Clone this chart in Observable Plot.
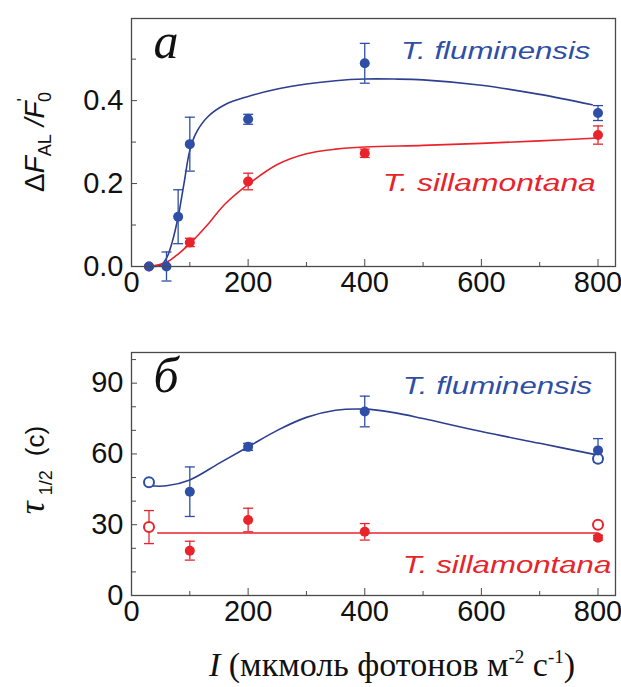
<!DOCTYPE html>
<html><head><meta charset="utf-8">
<script src="https://cdn.jsdelivr.net/npm/d3@7"></script>
<script src="https://cdn.jsdelivr.net/npm/@observablehq/plot@0.6"></script>
<style>
body{margin:0;background:#fff;}
#chart{position:relative;width:621px;height:687px;overflow:hidden;}
#chart svg{position:absolute;left:0;}
#border{position:absolute;left:8px;top:12px;width:640px;height:700px;border-left:1px solid #dcdcdc;border-top:1px solid #dcdcdc;}
</style></head><body><div id="chart"><div id="border"></div></div>
<script>
// ---------- data: panel a (ΔF_AL/F'0) ----------
const aBlueX   = [30, 60, 80, 100, 200, 400, 800];
const aBlueY   = [0.0, 0.0, 0.12, 0.295, 0.355, 0.49, 0.37];
const aBlueErr = [0.0, 0.035, 0.065, 0.065, 0.012, 0.048, 0.018];
const aRedX    = [30, 100, 200, 400, 800];
const aRedY    = [0.0, 0.058, 0.205, 0.273, 0.317];
const aRedErr  = [0.0, 0.01, 0.02, 0.01, 0.022];
const aBlueCurveX = [30, 50, 60, 70, 80, 90, 100, 110, 130, 160, 200, 250, 300, 350, 400, 450, 500, 600, 700, 790];
const aBlueCurveY = [0.0, 0.003, 0.02, 0.06, 0.12, 0.2, 0.28, 0.32, 0.36, 0.39, 0.41, 0.428, 0.44, 0.448, 0.452, 0.452, 0.45, 0.437, 0.415, 0.39];
const aRedCurveX = [30, 60, 80, 100, 130, 160, 200, 250, 300, 350, 400, 500, 600, 700, 800];
const aRedCurveY = [0.0, 0.01, 0.03, 0.055, 0.1, 0.15, 0.198, 0.246, 0.272, 0.283, 0.288, 0.292, 0.297, 0.303, 0.31];

// ---------- data: panel б (τ1/2, c) ----------
const bBlueX   = [100, 200, 400, 800];
const bBlueY   = [44, 63, 78, 61.5];
const bBlueErr = [10.5, 1.5, 6.5, 5];
const bBlueOpenX = [30, 800];
const bBlueOpenY = [48, 58];
const bRedX    = [100, 200, 400, 800];
const bRedY    = [19, 32, 27, 24.5];
const bRedErr  = [4, 5, 3.5, 1];
const bRedOpenX = [30, 800];
const bRedOpenY = [29, 30];
const bRedOpenErr = [7, 0];
const bBlueCurveX = [30, 60, 100, 150, 200, 250, 300, 350, 400, 450, 500, 600, 700, 800];
const bBlueCurveY = [46.5, 46.5, 49, 56, 63, 70, 75.5, 78.5, 79, 77.5, 75, 69.5, 64.5, 59.5];
const bRedLineX = [45, 800];
const bRedLineY = [26.5, 26.5];

// ---------- ticks / labels ----------
const xMajor = [0, 200, 400, 600, 800];
const xMinor = [100, 300, 500, 700];
const aYMajor = [0, 0.2, 0.4];
const aYMinor = [0.1, 0.3, 0.5];
const bYMajor = [0, 30, 60, 90];
const bYMinor = [10, 20, 40, 50, 70, 80, 100];
const species = ["T. fluminensis", "T. sillamontana"];
const panelLetters = ["a", "б"];

const BLUE = "#2f4ea6", BLUE_LINE = "#2d3f8e", RED = "#e8232b", AXIS = "#4a4a4a";
const W = 621, ML = 131, MR = 6;
const innerW = W - ML - MR;

const zipPts = (xs, ys, es) => xs.map((x, i) => ({x, y: ys[i], lo: ys[i] - (es ? es[i] : 0), hi: ys[i] + (es ? es[i] : 0)}));
const capSym = {draw(ctx) { ctx.moveTo(-5, 0); ctx.lineTo(5, 0); }};

function errMarks(pts, color) {
  const e = pts.filter(d => d.hi > d.lo);
  return [
    Plot.ruleX(e, {x: "x", y1: "lo", y2: "hi", stroke: color, strokeWidth: 1.3}),
    Plot.dot(e, {x: "x", y: "lo", symbol: capSym, stroke: color, strokeWidth: 1.3}),
    Plot.dot(e, {x: "x", y: "hi", symbol: capSym, stroke: color, strokeWidth: 1.3})
  ];
}

function frameMarks(innerH, yMajor, yMinor, fmt) {
  return [
    Plot.tickX(xMajor, {x: d => d, insetTop: innerH - 7, stroke: AXIS}),
    Plot.tickX(xMinor, {x: d => d, insetTop: innerH - 4, stroke: AXIS}),
    Plot.tickY(yMajor, {y: d => d, insetRight: innerW - 6, stroke: AXIS}),
    Plot.tickY(yMinor, {y: d => d, insetRight: innerW - 5, stroke: AXIS}),
    Plot.axisX({ticks: xMajor, tickSize: 0, tickPadding: 5, tickFormat: d => String(d), fill: "#111"}),
    Plot.axisY({ticks: yMajor, tickSize: 0, tickPadding: 8, tickFormat: fmt, fill: "#111"}),
    Plot.frame({stroke: AXIS, strokeWidth: 1.3})
  ];
}

const style = {fontSize: "29px", fontFamily: "'Liberation Sans', Arial, sans-serif", background: "white", overflow: "visible"};
const chart = document.getElementById("chart");

// ---------- panel a ----------
const aH = 300, aMT = 18, aMB = 34;
const aBlue = zipPts(aBlueX, aBlueY, aBlueErr);
const aRed = zipPts(aRedX, aRedY, aRedErr);
const plotA = Plot.plot({
  width: W, height: aH, marginLeft: ML, marginRight: MR, marginTop: aMT, marginBottom: aMB,
  style,
  x: {domain: [0, 830], label: null},
  y: {domain: [0, 0.598], label: null},
  marks: [
    Plot.line(aBlueCurveX.map((x, i) => ({x, y: aBlueCurveY[i]})), {x: "x", y: "y", stroke: BLUE_LINE, strokeWidth: 1.6, curve: "catmull-rom"}),
    Plot.line(aRedCurveX.map((x, i) => ({x, y: aRedCurveY[i]})), {x: "x", y: "y", stroke: RED, strokeWidth: 1.6, curve: "catmull-rom"}),
    ...errMarks(aBlue, BLUE),
    ...errMarks(aRed, RED),
    Plot.dot(aRed, {x: "x", y: "y", r: 5, fill: RED}),
    Plot.dot(aBlue, {x: "x", y: "y", r: 5, fill: BLUE}),
    Plot.text([species[0]], {x: 462, y: 0.52, text: d => d, textAnchor: "start", fill: BLUE, fontStyle: "italic", fontSize: 24}),
    Plot.text([species[1]], {x: 431, y: 0.2, text: d => d, textAnchor: "start", fill: RED, fontStyle: "italic", fontSize: 24.5}),
    Plot.text([panelLetters[0]], {frameAnchor: "top-left", dx: 22, dy: 4, text: d => d, fill: "#111", fontStyle: "italic", fontFamily: "'Liberation Serif', 'Times New Roman', serif", fontSize: 50, lineAnchor: "top"}),
    ...frameMarks(aH - aMT - aMB, aYMajor, aYMinor, d3.format(".1f"))
  ]
});
plotA.style.top = "0px";
chart.appendChild(plotA);

// ---------- panel б ----------
const bTop = 300, bH = 387, bMT = 52, bMB = 92;
const bBlue = zipPts(bBlueX, bBlueY, bBlueErr);
const bBlueOpen = zipPts(bBlueOpenX, bBlueOpenY, null);
const bRed = zipPts(bRedX, bRedY, bRedErr);
const bRedOpen = zipPts(bRedOpenX, bRedOpenY, bRedOpenErr);
const plotB = Plot.plot({
  width: W, height: bH, marginLeft: ML, marginRight: MR, marginTop: bMT, marginBottom: bMB,
  style,
  x: {domain: [0, 830], label: null},
  y: {domain: [0, 103], label: null},
  marks: [
    Plot.line(bBlueCurveX.map((x, i) => ({x, y: bBlueCurveY[i]})), {x: "x", y: "y", stroke: BLUE_LINE, strokeWidth: 1.6, curve: "catmull-rom"}),
    Plot.line(bRedLineX.map((x, i) => ({x, y: bRedLineY[i]})), {x: "x", y: "y", stroke: RED, strokeWidth: 1.6}),
    ...errMarks(bBlue, BLUE),
    ...errMarks(bRed, RED),
    ...errMarks(bRedOpen, RED),
    Plot.dot(bBlueOpen, {x: "x", y: "y", r: 5, fill: "white", stroke: BLUE, strokeWidth: 2}),
    Plot.dot(bRedOpen, {x: "x", y: "y", r: 5, fill: "white", stroke: RED, strokeWidth: 2}),
    Plot.dot(bBlue, {x: "x", y: "y", r: 5, fill: BLUE}),
    Plot.dot(bRed, {x: "x", y: "y", r: 5, fill: RED}),
    Plot.text([species[0]], {x: 465, y: 88.7, text: d => d, textAnchor: "start", fill: BLUE, fontStyle: "italic", fontSize: 24}),
    Plot.text([species[1]], {x: 465, y: 12.7, text: d => d, textAnchor: "start", fill: RED, fontStyle: "italic", fontSize: 24}),
    Plot.text([panelLetters[1]], {frameAnchor: "top-left", dx: 22, dy: 4, text: d => d, fill: "#111", fontStyle: "italic", fontFamily: "'Liberation Serif', 'Times New Roman', serif", fontSize: 50, lineAnchor: "top"}),
    ...frameMarks(bH - bMT - bMB, bYMajor, bYMinor, d => String(d))
  ]
});
plotB.style.top = bTop + "px";
chart.appendChild(plotB);

// stretch species labels horizontally like the reference
for (const svg of [plotA, plotB]) {
  d3.select(svg).selectAll("g[aria-label='text'] text").each(function() {
    const t = this.textContent;
    if (t.startsWith("T.")) {
      const tr = this.getAttribute("transform") || "";
      this.setAttribute("transform", tr + " scale(1.3,1)");
    }
  });
}

// y-axis title, panel a
const ta = d3.select(plotA).append("text")
  .attr("transform", "translate(44,142) rotate(-90)")
  .attr("text-anchor", "middle").attr("fill", "#111")
  .attr("font-family", "'Liberation Sans', Arial, sans-serif").attr("font-size", 28);
ta.append("tspan").text("Δ");
ta.append("tspan").attr("font-style", "italic").text("F");
ta.append("tspan").attr("font-size", 18).attr("dy", 7).text("AL");
ta.append("tspan").attr("dy", -7).attr("font-style", "italic").text(" /F");
ta.append("tspan").attr("font-size", 18).attr("dy", -14).text("'");
ta.append("tspan").attr("font-size", 18).attr("dx", -4).attr("dy", 21).text("0");

// y-axis title, panel б
const tb = d3.select(plotB).append("text")
  .attr("transform", "translate(44,170) rotate(-90)")
  .attr("text-anchor", "middle").attr("fill", "#111")
  .attr("font-family", "'Liberation Sans', Arial, sans-serif").attr("font-size", 26);
tb.append("tspan").attr("font-family", "'Liberation Serif', serif").attr("font-style", "italic").attr("font-size", 36).text("τ");
tb.append("tspan").attr("font-size", 18).attr("dx", 6).attr("dy", 8).text("1/2");
tb.append("tspan").attr("dx", 14).attr("dy", -8).text("(c)");

// x-axis title (below panel б)
const tx = d3.select(plotB).append("text")
  .attr("transform", "translate(392,376)")
  .attr("text-anchor", "middle").attr("fill", "#111")
  .attr("font-family", "'Liberation Serif', 'Times New Roman', serif").attr("font-size", 34);
tx.append("tspan").attr("font-style", "italic").text("I");
tx.append("tspan").text(" (мкмоль фотонов м");
tx.append("tspan").attr("font-size", 19).attr("dy", -13).text("-2");
tx.append("tspan").attr("dy", 13).text(" с");
tx.append("tspan").attr("font-size", 19).attr("dy", -13).text("-1");
tx.append("tspan").attr("dy", 13).text(")");
</script>
</body></html>
